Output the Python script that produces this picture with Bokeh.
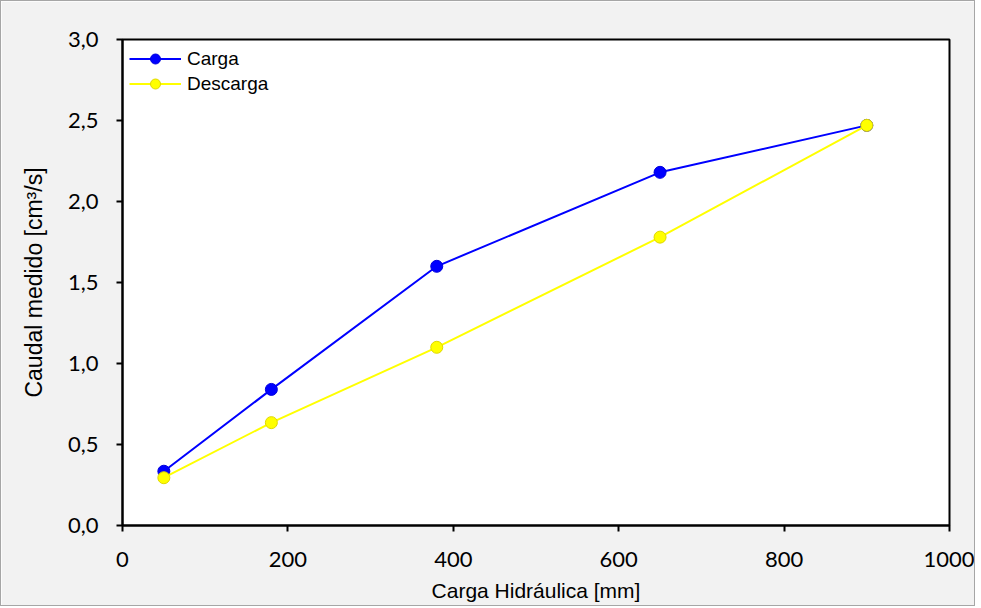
from bokeh.plotting import figure
from bokeh.models import Range1d, FixedTicker
from bokeh.embed import file_html
from bokeh.resources import INLINE

carga_hidraulica = [50, 180, 380, 650, 900]
caudal_carga = [0.335, 0.84, 1.60, 2.18, 2.47]
caudal_descarga = [0.295, 0.635, 1.10, 1.78, 2.47]
x_ticks = [0, 200, 400, 600, 800, 1000]
y_ticks = [0.0, 0.5, 1.0, 1.5, 2.0, 2.5, 3.0]
y_tick_labels = ["0,0", "0,5", "1,0", "1,5", "2,0", "2,5", "3,0"]

p = figure(width=975, height=606, output_backend="svg", toolbar_location=None,
           x_range=Range1d(0, 1000), y_range=Range1d(0, 3.0),
           min_border_left=121, min_border_right=27, min_border_top=38, min_border_bottom=82)
p.styles = {"border": "1px solid #a6a6a6", "box-sizing": "border-box"}
p.background_fill_color = "white"
p.border_fill_color = "#f2f2f2"
p.outline_line_color = "black"
p.outline_line_width = 2
p.xgrid.visible = False
p.ygrid.visible = False

TICK_FONT = "Lato"
LABEL_FONT = "Liberation Sans"

for ax in (p.xaxis[0], p.yaxis[0]):
    ax.axis_line_color = "black"
    ax.axis_line_width = 2
    ax.major_tick_line_color = "black"
    ax.major_tick_line_width = 2
    ax.major_tick_in = 0
    ax.major_tick_out = 6
    ax.minor_tick_line_color = None
    ax.major_label_text_font = TICK_FONT
    ax.major_label_text_font_size = "22px"
    ax.major_label_text_color = "black"
    ax.axis_label_text_font = LABEL_FONT
    ax.axis_label_text_font_style = "normal"
    ax.axis_label_text_color = "black"

p.xaxis.axis_label_text_font_size = "21px"
p.yaxis.axis_label_text_font_size = "23px"
p.xaxis.ticker = FixedTicker(ticks=x_ticks)
p.yaxis.ticker = FixedTicker(ticks=y_ticks)
p.yaxis.major_label_overrides = {t: l for t, l in zip(y_ticks, y_tick_labels)}
p.xaxis.major_label_standoff = 20
p.yaxis.major_label_standoff = 18
p.xaxis.axis_label = "Carga Hidráulica [mm]"
p.yaxis.axis_label = "Caudal medido [cm³/s]"
p.xaxis.axis_label_standoff = 9
p.yaxis.axis_label_standoff = 18

p.line(carga_hidraulica, caudal_carga, line_color="#0000ff", line_width=2, legend_label="Carga")
p.scatter(carga_hidraulica, caudal_carga, size=12, fill_color="#0000ff", line_color="#0000dd",
          legend_label="Carga")
p.line(carga_hidraulica, caudal_descarga, line_color="#ffff00", line_width=2, legend_label="Descarga")
p.scatter(carga_hidraulica, caudal_descarga, size=12, fill_color="#ffff00", line_color="#e0d800",
          legend_label="Descarga")

p.legend.location = "top_left"
p.legend.border_line_color = None
p.legend.background_fill_alpha = 0
p.legend.label_text_font = LABEL_FONT
p.legend.label_text_font_size = "19px"
p.legend.label_text_color = "black"
p.legend.glyph_width = 52
p.legend.glyph_height = 25
p.legend.label_height = 25
p.legend.spacing = 0
p.legend.padding = 4
p.legend.margin = 7
p.legend.label_standoff = 6

open("out.html", "w").write(file_html(p, INLINE))
